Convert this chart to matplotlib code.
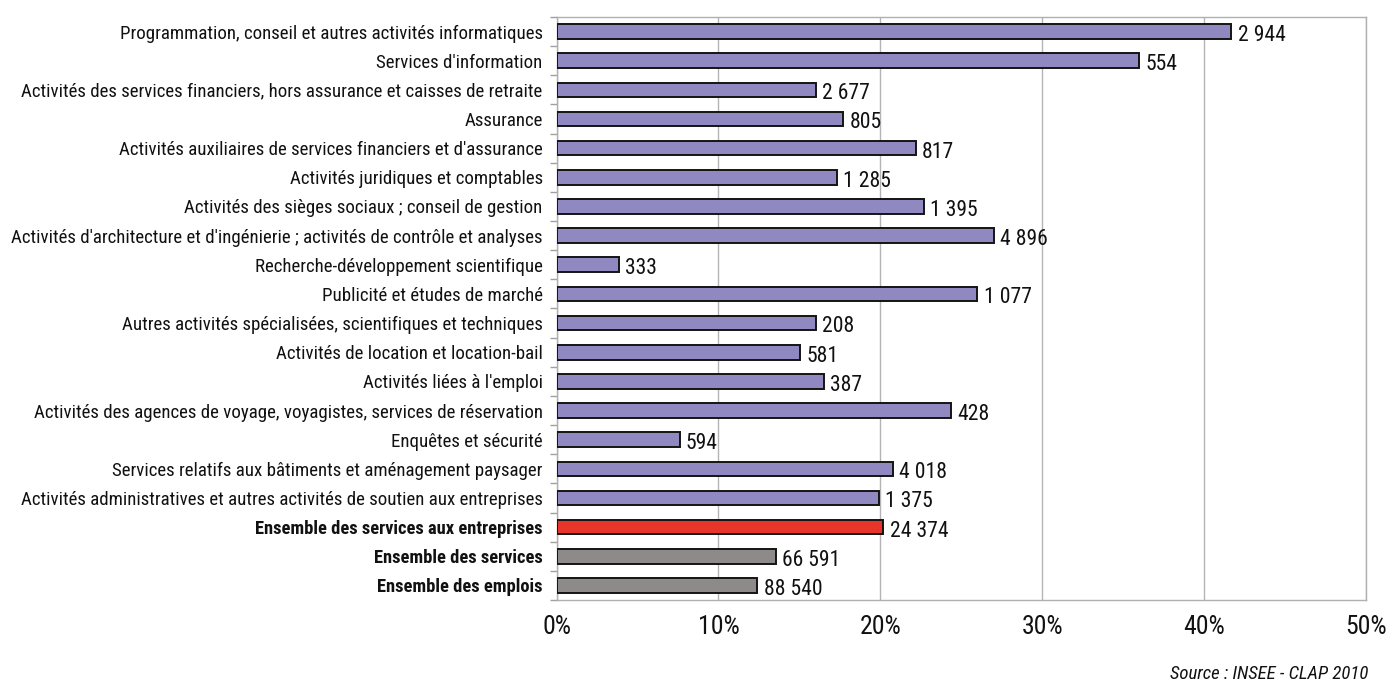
import matplotlib
matplotlib.use("Agg")
import matplotlib.pyplot as plt
from matplotlib.ticker import FixedLocator, PercentFormatter

FONT = ["Roboto Condensed", "Archivo Narrow", "DejaVu Sans"]
plt.rcParams["font.family"] = FONT

# secteurs, du haut vers le bas
secteurs = [
    "Programmation, conseil et autres activités informatiques",
    "Services d'information",
    "Activités des services financiers, hors assurance et caisses de retraite",
    "Assurance",
    "Activités auxiliaires de services financiers et d'assurance",
    "Activités juridiques et comptables",
    "Activités des sièges sociaux ; conseil de gestion",
    "Activités d'architecture et d'ingénierie ; activités de contrôle et analyses",
    "Recherche-développement scientifique",
    "Publicité et études de marché",
    "Autres activités spécialisées, scientifiques et techniques",
    "Activités de location et location-bail",
    "Activités liées à l'emploi",
    "Activités des agences de voyage, voyagistes, services de réservation",
    "Enquêtes et sécurité",
    "Services relatifs aux bâtiments et aménagement paysager",
    "Activités administratives et autres activités de soutien aux entreprises",
    "Ensemble des services aux entreprises",
    "Ensemble des services",
    "Ensemble des emplois",
]
parts = [41.7, 36.0, 16.0, 17.7, 22.2, 17.3, 22.7, 27.0, 3.85, 26.0,
         16.0, 15.05, 16.5, 24.4, 7.6, 20.8, 19.9, 20.2, 13.55, 12.4]
effectifs = [2944, 554, 2677, 805, 817, 1285, 1395, 4896, 333, 1077,
             208, 581, 387, 428, 594, 4018, 1375, 24374, 66591, 88540]
groupe = ["detail"] * 17 + ["total_se", "total", "total"]

COULEURS = {"detail": "#9088c0", "total_se": "#e8352c", "total": "#8e8a8a"}

fig = plt.figure(figsize=(13.95, 6.84), dpi=100)
ax = fig.add_axes([0.399, 0.1228, 0.58, 0.8524])

y = list(range(len(secteurs)))
ax.barh(y, parts, height=0.5, color=[COULEURS[g] for g in groupe],
        edgecolor="#141414", linewidth=1.4, zorder=3)

# effectifs a droite des barres
for yi, p, n in zip(y, parts, effectifs):
    txt = f"{n:,}".replace(",", " ")
    ax.annotate(txt, (p, yi), xytext=(4.5, -2.8), textcoords="offset points",
                ha="left", va="center", fontsize=15.6, color="#111")

ax.set_xlim(0, 50)
ax.set_ylim(len(secteurs) - 0.5, -0.5)
ax.xaxis.set_major_locator(FixedLocator([0, 10, 20, 30, 40, 50]))
ax.xaxis.set_major_formatter(PercentFormatter(decimals=0))
ax.tick_params(axis="x", length=0, labelsize=18.5, pad=11, labelcolor="#111")
ax.grid(axis="x", color="#b4b4b4", lw=1.0, zorder=0)

ax.set_yticks(y)
ax.set_yticklabels(secteurs, fontsize=13.6, color="#111")
for lab, g in zip(ax.get_yticklabels(), groupe):
    if g != "detail":
        lab.set_fontweight("bold")
        lab.set_fontsize(13.3)
ax.tick_params(axis="y", which="major", length=0, pad=10)
ax.set_yticks([i + 0.5 for i in range(-1, len(secteurs))], minor=True)
ax.tick_params(axis="y", which="minor", length=5, color="#a0a0a0", width=1)

for s in ax.spines.values():
    s.set_color("#b0b0b0")
    s.set_linewidth(1.0)

fig.text(0.981, 0.0146, "Source : INSEE - CLAP 2010", ha="right", va="center",
         fontsize=13.5, style="italic", color="#111")

fig.savefig("out.png", dpi=100)
